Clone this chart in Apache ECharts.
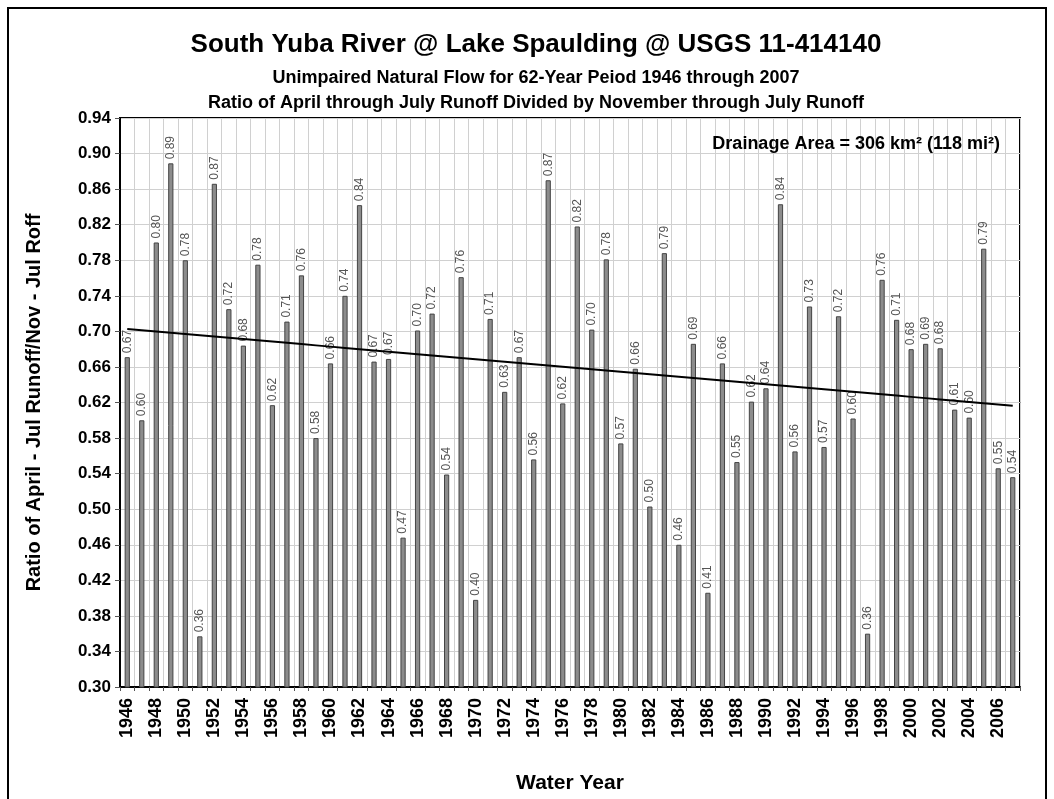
<!DOCTYPE html>
<html>
<head>
<meta charset="utf-8">
<script src="https://cdn.jsdelivr.net/npm/echarts@6/dist/echarts.min.js"></script>
<style>
html,body{margin:0;padding:0;background:#fff;}
#main{width:1054px;height:799px;}
</style>
</head>
<body>
<div id="main"></div>
<script>
// 水年
var years = [];
for (var y = 1946; y <= 2007; y++) { years.push(String(y)); }

// Apr-Jul / Nov-Jul 径流比
var ratios = [
	0.671, 0.600, 0.800, 0.889, 0.780, 0.357, 0.866, 0.725, 0.684, 0.775,
	0.617, 0.711, 0.763, 0.580, 0.664, 0.740, 0.842, 0.666, 0.669, 0.468,
	0.701, 0.720, 0.539, 0.761, 0.398, 0.714, 0.632, 0.671, 0.556, 0.870,
	0.619, 0.818, 0.702, 0.781, 0.574, 0.658, 0.503, 0.788, 0.460, 0.686,
	0.406, 0.664, 0.553, 0.621, 0.636, 0.843, 0.565, 0.728, 0.570, 0.717,
	0.602, 0.360, 0.758, 0.713, 0.680, 0.686, 0.681, 0.612, 0.603, 0.793,
	0.546, 0.536
];

// y轴范围
var yMin = 0.30, yMax = 0.94, yStep = 0.04;

// 线性趋势（最小二乘）
function trend(vals) {
	var n = vals.length, sx = 0, sy = 0, sxy = 0, sxx = 0;
	for (var i = 0; i < n; i++) {
		sx += i; sy += vals[i]; sxy += i * vals[i]; sxx += i * i;
	}
	var b = (n * sxy - sx * sy) / (n * sxx - sx * sx);
	var a = (sy - b * sx) / n;
	var out = [];
	for (var j = 0; j < n; j++) { out.push(a + b * j); }
	return out;
}
var trendLine = trend(ratios);

var myChart = echarts.init(document.getElementById('main'));
var FONT = 'Liberation Sans, Arial, sans-serif';

option = {
	backgroundColor: '#fff',
	animation: false,
	title: [
		{ text: 'South Yuba River @ Lake Spaulding @ USGS 11-414140', left: 531, top: 27, textAlign: 'center',
		  textStyle: { fontFamily: FONT, fontSize: 26, fontWeight: 'bold', color: '#000' } },
		{ text: 'Unimpaired Natural Flow for 62-Year Peiod 1946 through 2007', left: 531, top: 64, textAlign: 'center',
		  textStyle: { fontFamily: FONT, fontSize: 18, fontWeight: 'bold', color: '#000' } },
		{ text: 'Ratio of April through July Runoff Divided by November through July Runoff', left: 531, top: 89, textAlign: 'center',
		  textStyle: { fontFamily: FONT, fontSize: 18, fontWeight: 'bold', color: '#000' } }
	],
	graphic: [
		{ type: 'rect', shape: { x: 8, y: 8, width: 1038, height: 820 }, style: { fill: null, stroke: '#000', lineWidth: 2 }, z: 100 },
		{ type: 'text', right: 54, top: 135, z: 100,
		  style: { text: 'Drainage Area = 306 km² (118 mi²)', font: 'bold 18px Liberation Sans, Arial', fill: '#000' } }
	],
	grid: { left: 120, right: 34, top: 118, bottom: 112, show: true, borderColor: '#000', borderWidth: 2 },
	xAxis: {
		type: 'category',
		data: years,
		name: 'Water Year',
		nameLocation: 'middle',
		nameGap: 86,
		nameTextStyle: { fontFamily: FONT, fontSize: 21, fontWeight: 'bold', color: '#000' },
		axisLine: { lineStyle: { color: '#000', width: 2 } },
		axisTick: { show: true, interval: 0, length: 4, lineStyle: { color: '#555' } },
		axisLabel: { interval: 1, rotate: 90, margin: 11, fontFamily: FONT, fontSize: 18, fontWeight: 'bold', color: '#000' },
		splitLine: { show: true, interval: 0, lineStyle: { color: '#d0d0d0', width: 1 } }
	},
	yAxis: {
		type: 'value',
		min: yMin, max: yMax, interval: yStep,
		name: 'Ratio of April - Jul Runoff/Nov - Jul Roff',
		nameLocation: 'middle',
		nameGap: 76,
		nameTextStyle: { fontFamily: FONT, fontSize: 20, fontWeight: 'bold', color: '#000' },
		axisLine: { show: true, lineStyle: { color: '#000', width: 2 } },
		axisTick: { show: true, length: 5, lineStyle: { color: '#555' } },
		axisLabel: { margin: 9, fontFamily: FONT, fontSize: 17, fontWeight: 'bold', color: '#000',
			formatter: function (v) { return v.toFixed(2); } },
		splitLine: { show: true, lineStyle: { color: '#d0d0d0', width: 1 } }
	},
	series: [
		{
			name: 'ratio',
			type: 'bar',
			data: ratios,
			barWidth: '36%',
			itemStyle: { color: '#8c8c8c', borderColor: '#444', borderWidth: 1 },
			label: {
				show: true, position: 'top', rotate: 90, align: 'left', verticalAlign: 'middle', distance: 4,
				fontFamily: FONT, fontSize: 12, color: '#555',
				formatter: function (p) { return p.value.toFixed(2); }
			}
		},
		{
			name: 'trend',
			type: 'line',
			data: trendLine,
			symbol: 'none',
			z: 5,
			lineStyle: { color: '#000', width: 2 }
		}
	]
};
myChart.setOption(option);
</script>
</body>
</html>
